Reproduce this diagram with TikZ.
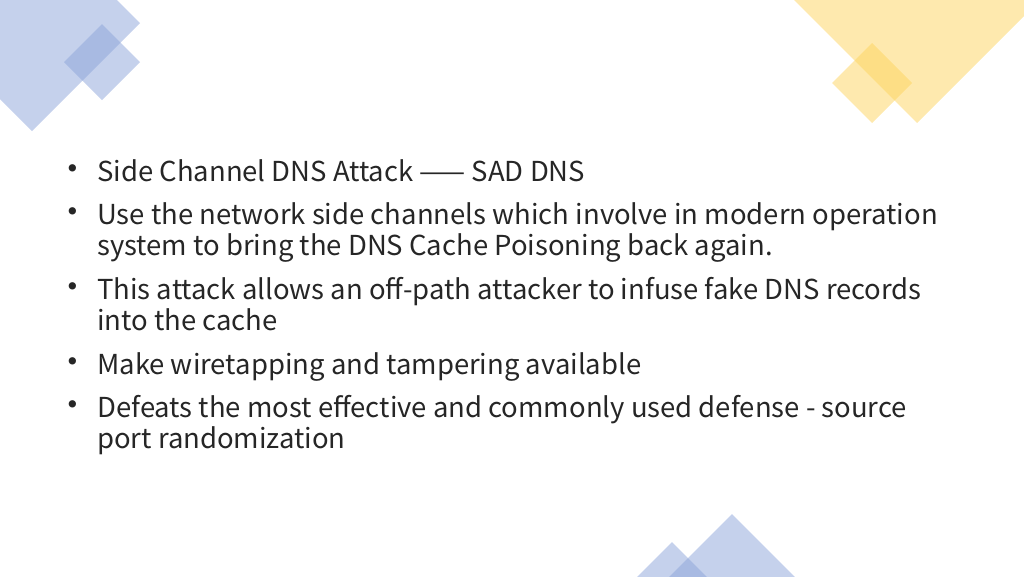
\documentclass[tikz,border=0pt]{standalone}
\usepackage{fontspec}
\setmainfont{Noto Sans CJK SC}
\begin{document}
\begin{tikzpicture}[x=0.75pt,y=-0.75pt,
  tx/.style={anchor=base west,inner sep=0pt,text=black!85,font=\fontsize{20.6}{24}\selectfont},
  bl/.style={anchor=base east,inner sep=0pt,text=black!85,font=\fontsize{26}{24}\selectfont}]
\useasboundingbox (0,0) rectangle (1024,576);
\definecolor{lb}{HTML}{8BA3D9}\definecolor{ly}{HTML}{FDD35D}
\begin{scope}[opacity=0.5]
\fill[lb] (32,-85)--(140,23)--(32,131)--(-76,23)--cycle;
\fill[lb] (102,24)--(140,62)--(102,100)--(64,62)--cycle;
\fill[ly] (917,-137)--(1047,-7)--(917,123)--(787,-7)--cycle;
\fill[ly] (872,43)--(912,83)--(872,123)--(832,83)--cycle;
\fill[lb] (732,514)--(812,594)--(732,674)--(652,594)--cycle;
\fill[lb] (672,542)--(752,622)--(672,702)--(592,622)--cycle;
\end{scope}
\foreach \y/\n in {181/b1,224/b2,299/b3,374/b4,417/b5}{\node[bl] (\n) at (90,\y) {•};}
\node[tx] (l1) at (97,181) {Side Channel DNS Attack —— SAD DNS};
\node[tx] (l2) at (97,224) {Use the network side channels which involve in modern operation};
\node[tx] (l3) at (97,255) {system to bring the DNS Cache Poisoning back again.};
\node[tx] (l4) at (97,299) {This attack allows an off-path attacker to infuse fake DNS records};
\node[tx] (l5) at (97,330) {into the cache};
\node[tx] (l6) at (97,374) {Make wiretapping and tampering available};
\node[tx] (l7) at (97,417) {Defeats the most effective and commonly used defense - source};
\node[tx] (l8) at (97,448) {port randomization};
\end{tikzpicture}
\end{document}
